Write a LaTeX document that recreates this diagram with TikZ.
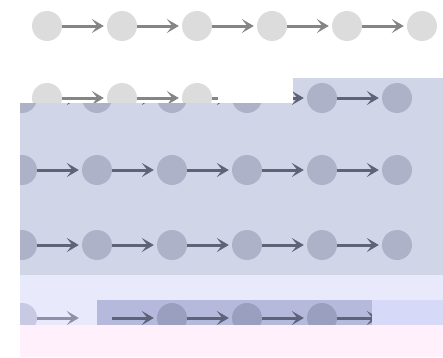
\documentclass[tikz,border=0pt]{standalone}
\usetikzlibrary{arrows.meta}

\definecolor{dotgray}{HTML}{DCDCDC}
\definecolor{arrowgray}{HTML}{858585}
\definecolor{panelblue}{HTML}{D0D5E8}
\definecolor{dotblue}{HTML}{ADB2C8}
\definecolor{arrowblue}{HTML}{5E6379}
\definecolor{bandlav}{HTML}{E8E9FB}
\definecolor{banddark}{HTML}{B5BADC}
\definecolor{dotdark}{HTML}{9A9FC0}
\definecolor{dotlav}{HTML}{C8C9E2}
\definecolor{arrowlav}{HTML}{8F91AA}
\definecolor{bandlight}{HTML}{D6DAF8}
\definecolor{bandpink}{HTML}{FFF0FC}

\begin{document}
\begin{tikzpicture}[x=1pt,y=-1pt,
  dot/.style={circle,minimum size=30pt,inner sep=0pt,fill=#1},
  link/.style={draw=#1,line width=3pt,shorten >=3pt,
    -{Stealth[length=12pt,width=14pt,inset=5.5pt]}}]
  \useasboundingbox (0,0) rectangle (443,357);

  % first row
  \foreach \i in {1,...,6}
    \node[dot=dotgray] (a\i) at ({47+75*(\i-1)},26) {};
  \foreach \i [evaluate=\i as \j using int(\i+1)] in {1,...,5}
    \draw[link=arrowgray] (a\i) -- (a\j);

  % second row, left part
  \foreach \i in {1,...,3}
    \node[dot=dotgray] (b\i) at ({47+75*(\i-1)},98) {};
  \coordinate (bcut) at (218,98);
  \draw[link=arrowgray] (b1) -- (b2);
  \draw[link=arrowgray] (b2) -- (b3);
  \draw[draw=arrowgray,line width=3pt] (b3) -- (bcut);

  % blue panel, rows shifted left
  \begin{scope}
    \clip (293,78) rectangle (443,103) (20,103) rectangle (443,275);
    \fill[panelblue] (293,78) rectangle (443,103) (20,103) rectangle (443,275);
    \foreach \r/\y in {c/98,d/170,e/245} {
      \foreach \i in {1,...,6}
        \node[dot=dotblue] (\r\i) at ({22+75*(\i-1)},\y) {};
      \foreach \i [evaluate=\i as \j using int(\i+1)] in {1,...,5}
        \draw[link=arrowblue] (\r\i) -- (\r\j);
    }
  \end{scope}

  \fill[bandlav] (20,275) rectangle (443,300);

  % last row
  \begin{scope}
    \clip (20,300) rectangle (443,325);
    \fill[bandlav] (20,300) rectangle (97,325);
    \fill[banddark] (97,300) rectangle (372,325);
    \node[dot=dotlav] (f1) at (22,318) {};
    \node[circle,minimum size=30pt,inner sep=0pt] (f2) at (97,318) {};
    \foreach \i in {3,...,6}
      \node[dot=dotdark] (f\i) at ({22+75*(\i-1)},318) {};
    \draw[link=arrowlav] (f1) -- (f2);
    \foreach \i [evaluate=\i as \j using int(\i+1)] in {2,...,5}
      \draw[link=arrowblue] (f\i) -- (f\j);
    \fill[bandlight] (372,300) rectangle (443,325);
  \end{scope}

  \fill[bandpink] (20,325) rectangle (443,357);
\end{tikzpicture}
\end{document}
